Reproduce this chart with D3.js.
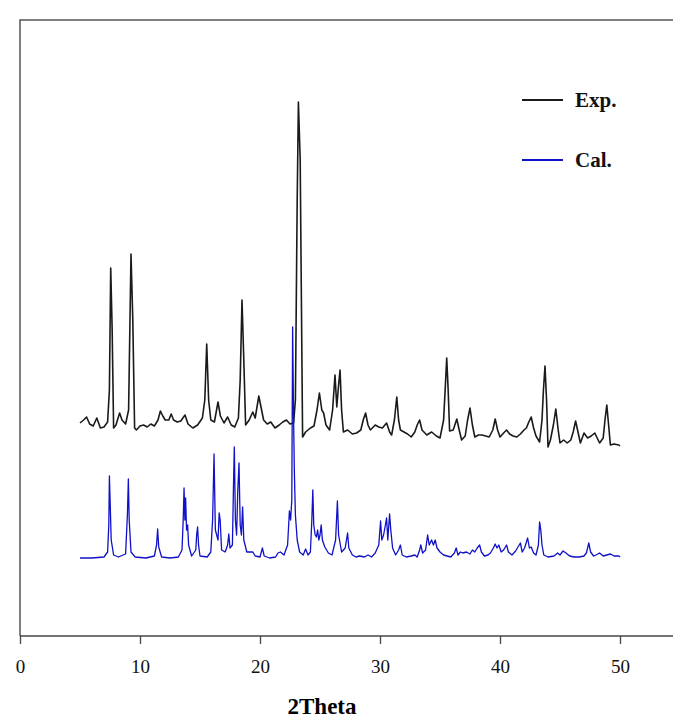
<!DOCTYPE html>
<html>
<head>
<meta charset="UTF-8">
<title>XRD</title>
<script src="https://cdn.jsdelivr.net/npm/d3@7"></script>
<style>
  html, body { margin: 0; padding: 0; background: #fff; overflow: hidden; }
  svg { display: block; }
  text { font-family: "Liberation Serif", "Times New Roman", serif; }
</style>
</head>
<body>
<script>
// experimental pattern (2theta, plotted intensity incl. offset)
var expTheta = [5.0,5.3,5.55,5.8,6.1,6.4,6.7,7.0,7.3,7.45,7.56,7.68,7.8,8.0,8.3,8.5,8.8,9.05,9.25,9.4,9.55,9.7,10.0,10.3,10.6,10.9,11.2,11.5,11.7,11.9,12.1,12.4,12.6,12.8,13.1,13.4,13.75,14.0,14.4,14.8,15.2,15.4,15.56,15.72,15.9,16.2,16.5,16.7,17.0,17.3,17.6,17.9,18.2,18.35,18.5,18.65,18.8,19.1,19.4,19.6,19.9,20.1,20.3,20.6,20.9,21.25,21.6,21.9,22.2,22.5,22.8,22.95,23.1,23.2,23.35,23.45,23.55,23.8,24.2,24.5,24.75,24.95,25.15,25.3,25.5,25.8,26.05,26.25,26.4,26.55,26.67,26.8,26.95,27.3,27.7,28.05,28.4,28.6,28.8,29.0,29.2,29.6,29.9,30.2,30.55,30.8,30.97,31.2,31.4,31.55,31.7,32.0,32.3,32.6,32.9,33.1,33.3,33.5,33.9,34.3,34.7,35.0,35.3,35.45,35.56,35.68,35.8,36.1,36.4,36.6,36.8,37.1,37.3,37.5,37.7,37.9,38.2,38.5,38.8,39.1,39.4,39.6,39.8,40.0,40.3,40.55,40.8,41.1,41.4,41.7,42.0,42.2,42.4,42.6,42.8,43.0,43.3,43.5,43.62,43.75,43.88,44.0,44.2,44.45,44.65,44.85,45.0,45.3,45.6,45.9,46.1,46.3,46.5,46.7,47.0,47.3,47.6,47.9,48.1,48.3,48.6,48.75,48.9,49.05,49.2,49.5,49.9,50.0];
var expInt = [213,216,219,212,210,218,208,209,214,246,368,306,208,211,223,216,212,226,382,316,208,206,210,211,209,212,210,216,225,220,216,216,222,216,214,215,221,212,208,211,218,236,292,236,216,214,234,220,213,219,211,209,218,256,336,276,211,216,224,218,240,228,216,212,214,208,211,214,216,212,213,236,436,534,476,336,199,204,208,210,226,243,226,223,211,206,226,261,229,251,266,226,204,206,202,203,206,216,223,211,206,211,209,208,213,204,201,216,239,216,206,204,202,199,204,211,216,206,201,204,200,198,216,251,278,246,205,206,217,206,196,200,216,228,211,199,201,201,200,199,206,217,206,199,203,206,202,200,199,202,206,208,214,219,208,200,194,216,246,270,236,189,196,211,227,206,193,196,193,196,204,215,204,193,203,198,200,203,198,193,198,216,231,211,191,192,191,190];

// calculated pattern
var calTheta = [5.0,6.0,7.0,7.3,7.4,7.45,7.52,7.6,7.8,8.2,8.8,8.95,9.03,9.1,9.25,9.6,10.5,11.2,11.38,11.47,11.56,11.8,12.5,13.2,13.5,13.6,13.67,13.74,13.8,13.88,13.97,14.05,14.3,14.65,14.72,14.8,14.88,15.0,15.6,15.9,16.05,16.17,16.28,16.5,16.6,16.68,16.8,17.1,17.3,17.4,17.5,17.7,17.8,17.86,17.95,18.05,18.15,18.25,18.35,18.45,18.55,18.65,18.9,19.4,19.6,20.0,20.2,20.35,20.8,21.3,21.5,21.7,22.0,22.3,22.45,22.55,22.65,22.72,22.8,22.86,22.95,23.1,23.3,23.6,23.8,24.0,24.2,24.32,24.4,24.48,24.6,24.7,24.8,24.9,25.0,25.1,25.2,25.4,25.7,26.0,26.3,26.45,26.55,26.8,27.1,27.3,27.4,27.7,28.0,28.3,28.7,29.0,29.3,29.6,29.9,30.05,30.15,30.3,30.45,30.55,30.65,30.8,30.9,31.05,31.3,31.55,31.7,31.85,32.2,32.6,32.9,33.1,33.3,33.4,33.55,33.8,33.97,34.1,34.3,34.45,34.6,34.75,35.0,35.3,35.6,35.9,36.2,36.35,36.5,36.7,36.9,37.2,37.5,37.7,37.9,38.1,38.3,38.45,38.7,39.0,39.2,39.45,39.6,39.75,39.9,40.1,40.3,40.55,40.7,41.0,41.3,41.7,41.85,42.05,42.3,42.45,42.6,42.8,43.0,43.2,43.3,43.4,43.5,43.65,44.0,44.5,44.8,45.0,45.25,45.5,45.8,46.2,46.6,47.0,47.2,47.4,47.55,47.8,48.0,48.3,48.6,48.9,49.2,49.5,49.9,50.0];
var calInt = [78,78,79,84,111,160,131,96,81,79,82,121,157,116,84,79,78,80,91,107,89,79,78,79,86,116,148,116,138,106,111,91,80,86,101,109,91,80,79,84,116,182,106,96,123,116,86,84,91,102,88,91,156,189,116,101,146,173,111,101,129,96,84,84,80,79,88,80,78,79,83,84,81,91,125,116,136,309,216,166,121,96,84,81,87,81,84,116,146,111,101,99,106,96,101,111,96,89,83,81,96,135,101,84,88,103,88,81,79,80,79,81,79,83,91,115,96,101,111,118,96,122,106,88,81,86,91,81,79,80,81,79,86,91,83,86,101,91,96,91,96,88,84,81,80,79,83,88,81,84,83,84,82,86,84,88,91,84,80,81,83,88,92,88,91,84,86,91,84,81,85,93,84,88,98,88,89,83,81,91,114,106,91,81,79,80,83,81,85,83,80,79,79,80,83,93,84,80,81,83,80,81,82,80,80,79];

var majorTicks = [0, 10, 20, 30, 40, 50];
var minorTicks = [5, 15, 25, 35, 45, 55];
var seriesNames = ["Exp.", "Cal."];
var seriesColors = ["#1a1a1a", "#1010c8"];

var W = 673, H = 720;
var m = {left: 20, top: 20, bottom: 84};
var x = d3.scaleLinear().domain([0, 55]).range([m.left, 680]);
var y = d3.scaleLinear().domain([0, 616]).range([H - m.bottom, m.top]);

var svg = d3.select("body").append("svg")
    .attr("width", W).attr("height", H);

// frame (left + top), right side runs off the page
svg.append("path")
    .attr("d", "M" + x(0) + "," + y(0) + "V" + y(616) + "H" + (W + 10))
    .attr("fill", "none").attr("stroke", "#555").attr("stroke-width", 1.5);

// bottom axis
var gx = svg.append("g").attr("transform", "translate(0," + y(0) + ")");
gx.call(d3.axisBottom(x).tickValues(minorTicks).tickSize(5).tickSizeOuter(0).tickFormat(""));
gx.call(d3.axisBottom(x).tickValues(majorTicks).tickSize(8).tickSizeOuter(0).tickPadding(16)
    .tickFormat(d3.format("d")));
gx.selectAll(".domain").remove();
gx.append("line").attr("x1", x(0)).attr("x2", W + 10)
    .attr("stroke", "#444").attr("stroke-width", 1.5);
gx.selectAll(".tick line").attr("stroke", "#444").attr("stroke-width", 1.3);
gx.selectAll(".tick text")
    .attr("fill", "#111")
    .style("font-size", "19px")
    .style("font-family", "'Liberation Serif', serif");

svg.append("text")
    .attr("x", 322).attr("y", 714)
    .attr("text-anchor", "middle")
    .style("font-size", "23px").style("font-weight", "bold")
    .text("2Theta");

var line = d3.line()
    .x(function(d){ return x(d[0]); })
    .y(function(d){ return y(d[1]); });

var expData = d3.zip(expTheta, expInt);
var calData = d3.zip(calTheta, calInt);

svg.append("path").datum(expData)
    .attr("d", line).attr("fill", "none")
    .attr("stroke", seriesColors[0]).attr("stroke-width", 1.6)
    .attr("stroke-linejoin", "round");
svg.append("path").datum(calData)
    .attr("d", line).attr("fill", "none")
    .attr("stroke", seriesColors[1]).attr("stroke-width", 1.3)
    .attr("stroke-linejoin", "round");

// legend
var lg = svg.selectAll(".lg").data(seriesNames).enter().append("g")
    .attr("transform", function(d, i){ return "translate(522," + (100 + i * 60) + ")"; });
lg.append("line").attr("x1", 0).attr("x2", 41)
    .attr("stroke", function(d, i){ return seriesColors[i]; })
    .attr("stroke-width", 2);
lg.append("text").attr("x", 53).attr("y", 7)
    .style("font-size", "21px").style("font-weight", "bold")
    .attr("fill", "#111")
    .text(function(d){ return d; });
</script>
</body>
</html>
